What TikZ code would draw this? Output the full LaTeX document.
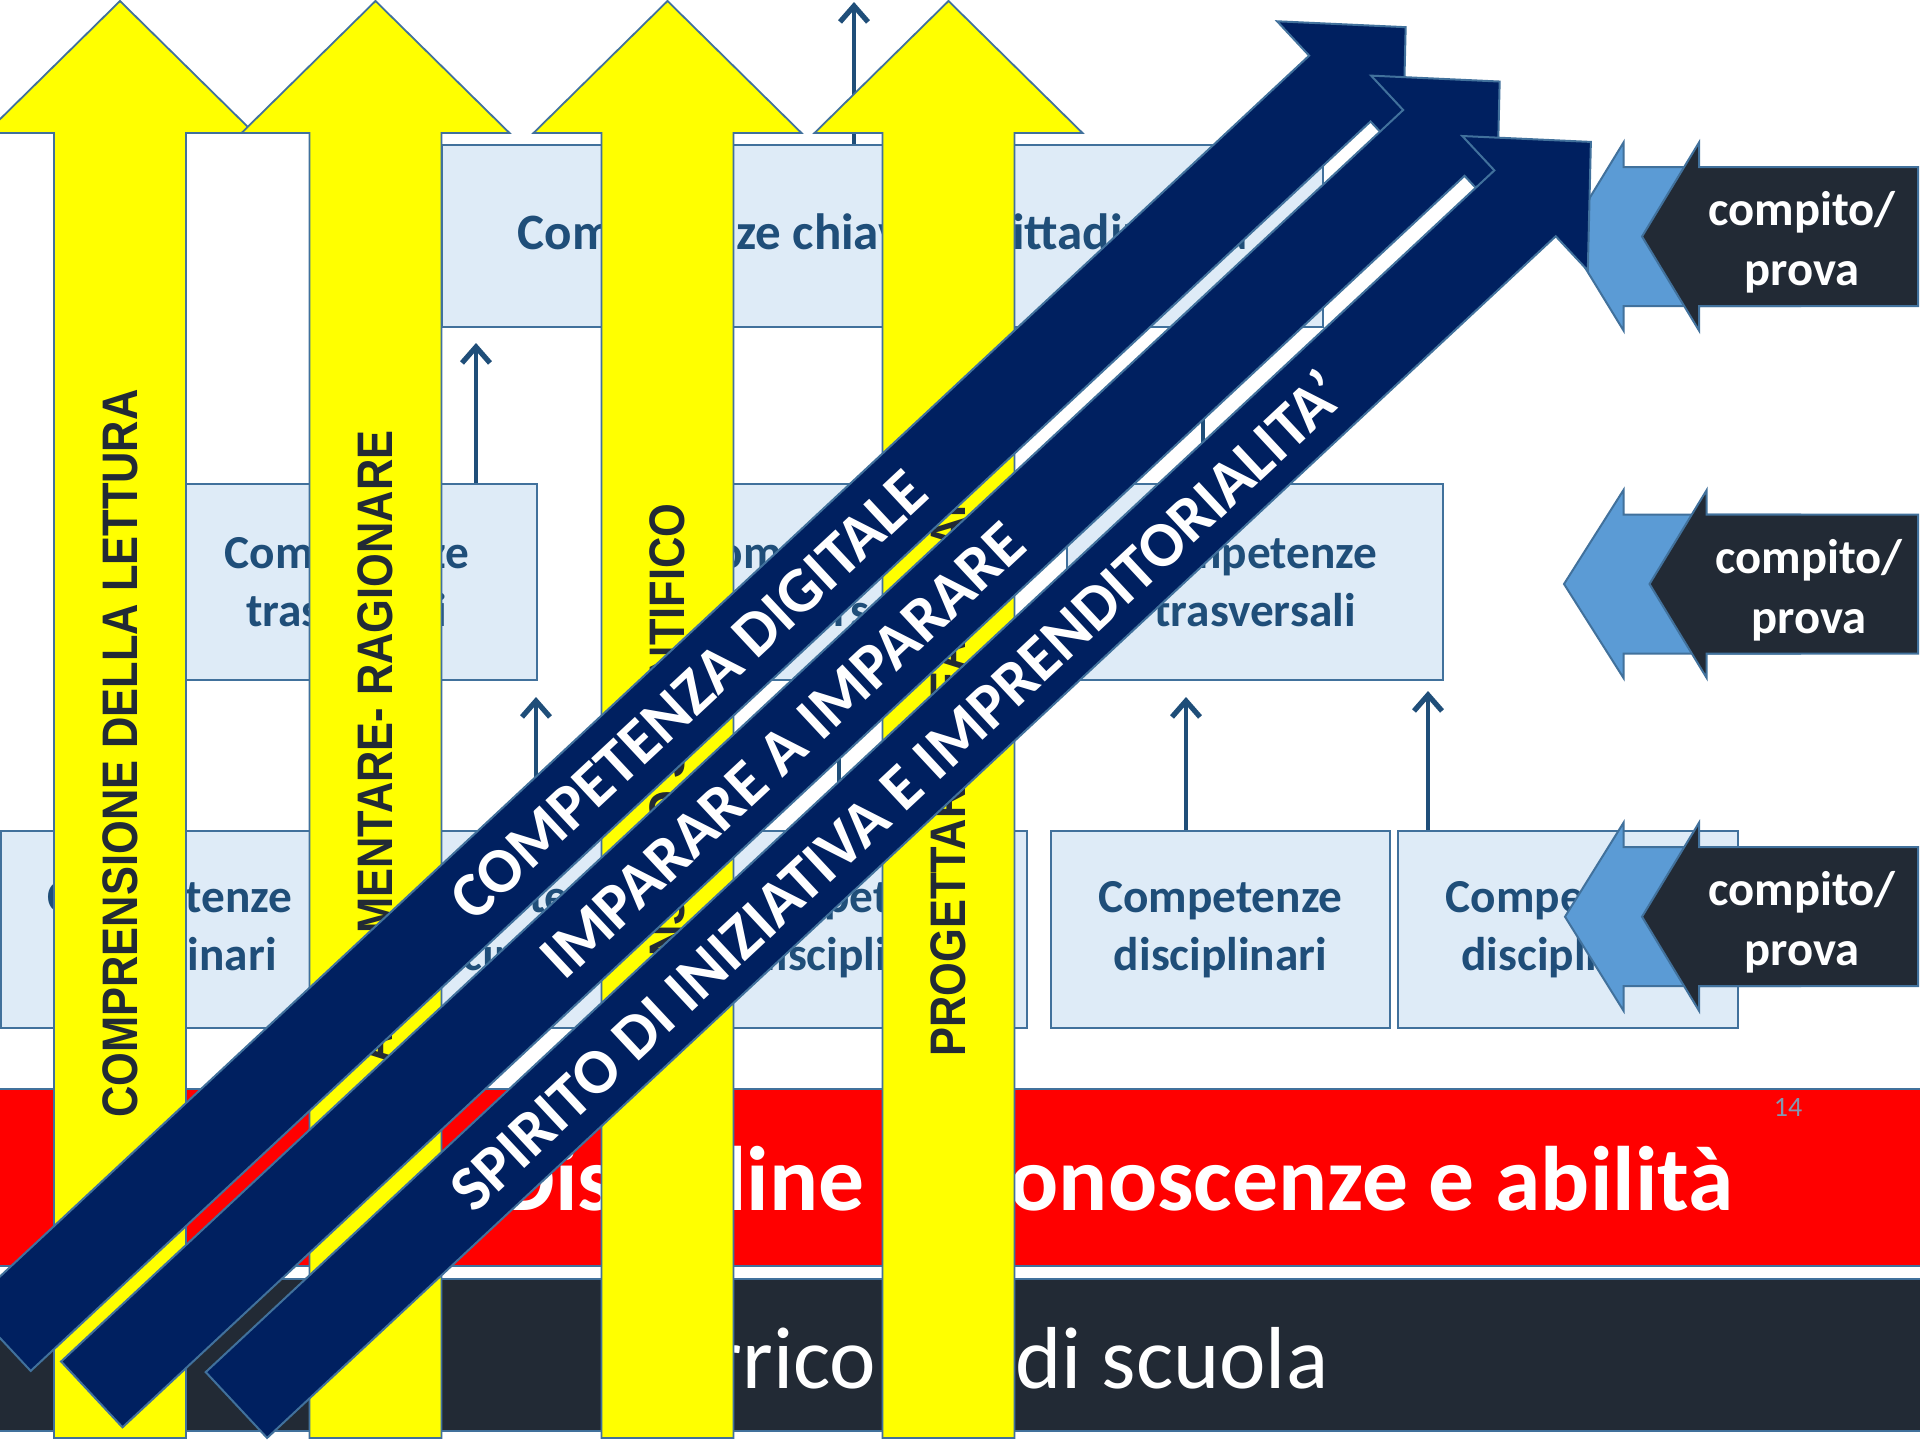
\documentclass[tikz,border=0pt]{standalone}
\usepackage{fontspec}
\setmainfont{Carlito}
\newfontfamily\yfont{Liberation Sans}
\usetikzlibrary{arrows.meta}
\definecolor{yel}{HTML}{FFFF00}
\definecolor{navy}{HTML}{002060}
\definecolor{edge}{HTML}{41719C}
\definecolor{boxfill}{HTML}{DEEBF7}
\definecolor{boxtext}{HTML}{1F4E79}
\definecolor{darkc}{HTML}{222A35}
\definecolor{lblue}{HTML}{5B9BD5}
\definecolor{pnum}{HTML}{8497B0}
\newcommand\yarrowshape[1]{\path[yarr] ({#1-66},1438) -- ({#1-66},133) -- ({#1-134},133) -- (#1,1) -- ({#1+134},133) -- ({#1+66},133) -- ({#1+66},1438) -- cycle;}
\newcommand\barrowshape[1]{\path[barr] (0,-45) -- ({#1-90},-45) -- ({#1-90},-92) -- (#1,0) -- ({#1-90},92) -- ({#1-90},45) -- (0,45) -- cycle;}
\newcommand\ystretch[1]{\scalebox{1}[1.15]{#1}}
\begin{document}
\begin{tikzpicture}[x=0.5pt,y=-0.5pt,
  box/.style={draw=edge, line width=1.2pt, fill=boxfill, text=boxtext, font=\bfseries\fontsize{23.65}{28.9}\selectfont, align=center, inner sep=0pt},
  yarr/.style={fill=yel, draw=edge, line width=0.9pt},
  ytext/.style={text=darkc, font=\yfont\bfseries\fontsize{21.7}{26}\selectfont, inner sep=0pt, rotate=90},
  barr/.style={fill=navy, draw=edge, line width=1pt},
  btext/.style={text=white, font=\bfseries\fontsize{32}{38}\selectfont, inner sep=0pt, transform shape},
  conn/.style={draw=boxtext, line width=2.4pt, -{Straight Barb[length=8pt,width=14pt,line width=2.6pt]}},
  lba/.style={fill=lblue, draw=edge, line width=1pt},
  dba/.style={fill=darkc, draw=edge, line width=1pt},
  ctext/.style={text=white, font=\bfseries\fontsize{24.3}{30}\selectfont, align=center, inner sep=0pt},
  band/.style={draw=edge, line width=1.2pt, inner sep=0pt, anchor=north west}]
\useasboundingbox (0,0) rectangle (1920,1440);
\clip (0,0) rectangle (1920,1440);
\fill[white] (0,0) rectangle (1920,1440);

% boxes
\node[box, font=\bfseries\fontsize{25.5}{31}\selectfont, minimum width=440.5pt, minimum height=91pt] (top) at (882.5,236) {Competenze chiave di cittadinanza};
\node[box, minimum width=190pt, minimum height=98pt] (m1) at (347,582) {Competenze\\trasversali};
\node[box, minimum width=189pt, minimum height=98pt] (m2) at (815,582) {Competenze\\trasversali};
\node[box, minimum width=188pt, minimum height=98pt] (m3) at (1255,582) {Competenze\\trasversali};
\node[box, minimum width=169pt, minimum height=98.5pt] (d1) at (170,929.5) {Competenze\\disciplinari};
\node[box, minimum width=169.5pt, minimum height=98.5pt] (d2) at (513.5,929.5) {Competenze\\disciplinari};
\node[box, minimum width=169.5pt, minimum height=98.5pt] (d3) at (857.5,929.5) {Competenze\\disciplinari};
\node[box, minimum width=169.5pt, minimum height=98.5pt] (d4) at (1220.5,929.5) {Competenze\\disciplinari};
\node[box, minimum width=170pt, minimum height=98.5pt] (d5) at (1568,929.5) {Competenze\\disciplinari};

% connectors
\coordinate (c1e) at (536,697);
\coordinate (c2e) at (839,697);
\coordinate (c3e) at (1186,697);
\coordinate (c4e) at (1428,691);
\coordinate (c5e) at (476,343);
\coordinate (c6e) at (1203,345);
\coordinate (c7e) at (854,2);
\draw[conn] (d2.north -| c1e) -- (c1e);
\draw[conn] (d3.north -| c2e) -- (c2e);
\draw[conn] (d4.north -| c3e) -- (c3e);
\draw[conn] (d5.north -| c4e) -- (c4e);
\draw[conn] (m1.north -| c5e) -- (c5e);
\draw[conn] (m3.north -| c6e) -- (c6e);
\draw[conn] (top.north -| c7e) -- (c7e);

% bands
\node[band, fill=red, minimum width=965pt, minimum height=88.5pt] (redband) at (-5,1088) {};
\node[anchor=base east, text=white, inner sep=0pt, font=\bfseries\fontsize{45.8}{52}\selectfont] (redtxt) at (1734,1210) {Discipline –\hspace{10pt} conoscenze e abilità};
\node[text=pnum, inner sep=0pt, font=\fontsize{14}{16}\selectfont] (pg) at (1788,1107) {14};
\node[band, fill=darkc, minimum width=965pt, minimum height=76pt] (darkband) at (-5,1278) {};
\node[anchor=base east, text=white, inner sep=0pt, font=\fontsize{44}{50}\selectfont] (darktxt) at (1329,1388) {Curricolo\hspace{26.5pt} di scuola};

% compito / prova arrows
\path[lba] (1566,236.5) -- (1623.5,142.5) -- (1623.5,167) -- (1800,167) -- (1800,306) -- (1623.5,306) -- (1623.5,330.5) -- cycle;
\path[dba] (1642,236.5) -- (1699,142.5) -- (1699,167) -- (1918,167) -- (1918,306) -- (1699,306) -- (1699,330.5) -- cycle;
\node[ctext] (ct1) at (1802,242.5) {compito/\\prova};

\path[lba] (1564,584) -- (1623.5,490) -- (1623.5,514.5) -- (1800,514.5) -- (1800,653.5) -- (1623.5,653.5) -- (1623.5,678) -- cycle;
\path[dba] (1649.5,584) -- (1706.7,490) -- (1706.7,514.5) -- (1918,514.5) -- (1918,653.5) -- (1706.7,653.5) -- (1706.7,678) -- cycle;
\node[ctext] (ct2) at (1809,590) {compito/\\prova};

\path[lba] (1565,916.7) -- (1623.5,822.7) -- (1623.5,847.2) -- (1800,847.2) -- (1800,986.2) -- (1623.5,986.2) -- (1623.5,1010.7) -- cycle;
\path[dba] (1642,916.7) -- (1699,822.7) -- (1699,847.2) -- (1918,847.2) -- (1918,986.2) -- (1699,986.2) -- (1699,1010.7) -- cycle;
\node[ctext] (ct3) at (1802,922.7) {compito/\\prova};

% yellow arrows
\yarrowshape{120}
\yarrowshape{375.5}
\yarrowshape{667.5}
\yarrowshape{948.5}
\node[ytext, anchor=east] (y1) at (120,389) {\ystretch{COMPRENSIONE DELLA LETTURA}};
\node[ytext, anchor=east] (y2) at (375.5,430) {\ystretch{ARGOMENTARE- RAGIONARE}};
\node[ytext, anchor=east] (y3) at (667.5,503) {\ystretch{PENSIERO SCIENTIFICO}};
\node[ytext, anchor=west] (y4) at (948.5,1057) {\ystretch{PROGETTARE- REALIZZARE}};

% blue diagonal arrows
\begin{scope}[shift={(0,1338)}, rotate=43]
\barrowshape{1922}
\node[btext] (b1) at (942,0) {COMPETENZA DIGITALE};
\end{scope}
\begin{scope}[shift={(91.8,1394.4)}, rotate=43]
\barrowshape{1925}
\node[btext] (b2) at (944.5,0) {IMPARARE A IMPARARE};
\end{scope}
\begin{scope}[shift={(236.4,1405)}, rotate=43]
\barrowshape{1852}
\node[btext] (b3) at (901.4,0) {SPIRITO DI INIZIATIVA E IMPRENDITORIALITA’};
\end{scope}
\end{tikzpicture}
\end{document}
